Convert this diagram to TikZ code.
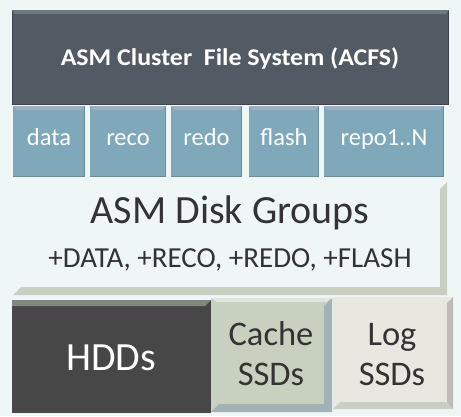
\documentclass[tikz,border=0pt]{standalone}
\usepackage{fontspec}
\setmainfont{Carlito}
\definecolor{bgc}{HTML}{EEF6F6}
\definecolor{acfsc}{HTML}{525A63}
\definecolor{acfsedge}{HTML}{3F454B}
\definecolor{acfstop}{HTML}{6F7980}
\definecolor{mountc}{HTML}{7FA9BA}
\definecolor{mounttop}{HTML}{9DB0C6}
\definecolor{mountedge}{HTML}{6A8C99}
\definecolor{dgbevel}{HTML}{C7D0C0}
\definecolor{hddc}{HTML}{474747}
\definecolor{hddtop}{HTML}{7F877F}
\definecolor{cachec}{HTML}{C8D0C0}
\definecolor{cachebevel}{HTML}{A3B2B5}
\definecolor{logc}{HTML}{E8E8E0}
\definecolor{logbevel}{HTML}{C1B8B9}
\definecolor{darktext}{HTML}{333333}
\begin{document}
\begin{tikzpicture}[x=1pt,y=-1pt,
  lbl/.style={inner sep=0pt, anchor=base, font=\fontsize{24.5}{24.5}\selectfont, text=white},
  darklbl/.style={inner sep=0pt, align=center, text=darktext}]
\fill[bgc] (0,0) rectangle (461,416);
\useasboundingbox (0,0) rectangle (461,416);
% ACFS
\fill[acfsc] (12,10) rectangle (449,105);
\draw[acfsedge, line width=1.2pt] (12.5,10.5) rectangle (448.5,104.5);
\fill[acfstop] (12,10) -- (449,10) -- (446,14) -- (15,14) -- cycle;
\node[inner sep=0pt, anchor=base, text=white, font=\bfseries\fontsize{24}{24}\selectfont] (acfs) at (230,65.5) {\scalebox{1.08}[1]{ASM Cluster\ \ File System (ACFS)}};
% mount points
\foreach \n/\a/\b/\t in {data/13/85/data, reco/90/166/reco, redo/171/242/redo, flash/249/319/flash, repo/324/444/repo1..N}{
  \fill[mountc] (\a,106) rectangle (\b,177);
  \fill[mounttop] (\a,106) -- (\b,106) -- (\b-4,110) -- (\a+4,110) -- cycle;
  \draw[mountedge, line width=0.8pt] (\a,176.6) -- (\b,176.6) (\b-0.4,106) -- (\b-0.4,177);
  \node[lbl] (\n) at ({(\a+\b)/2},145) {\t};
}
% disk groups
\fill[dgbevel] (447,182) -- (447,295) -- (13,295) -- (21,287) -- (440,287) -- (440,189) -- cycle;
\node[darklbl, anchor=base, font=\fontsize{40}{40}\selectfont] (dg) at (230,223) {ASM Disk Groups};
\node[darklbl, anchor=base, font=\fontsize{29}{29}\selectfont] (dgl) at (230,267) {+DATA, +RECO, +REDO, +FLASH};
% HDDs
\fill[hddc] (12,300) rectangle (211,413);
\fill[hddtop] (12,300) -- (211,300) -- (205,306) -- (12,306) -- cycle;
\node[inner sep=0pt, anchor=base, text=white, font=\fontsize{40}{40}\selectfont] (hdd) at (111,370) {HDDs};
% Cache SSDs
\fill[cachec] (211,298) rectangle (332,412);
\fill[cachebevel] (332,298) -- (332,412) -- (211,412) -- (219,404) -- (324,404) -- (324,306) -- cycle;
\fill[bgc!60!cachec] (211,298) -- (332,298) -- (326,302) -- (217,302) -- cycle;
\node[darklbl, anchor=base, font=\fontsize{34.5}{34.5}\selectfont] (cache1) at (271,345) {Cache};
\node[darklbl, anchor=base, font=\fontsize{34.5}{34.5}\selectfont] (cache2) at (271,385) {SSDs};
% Log SSDs
\fill[logc] (333,297) rectangle (453,409);
\fill[logbevel] (453,297) -- (453,409) -- (447,403) -- (447,303) -- cycle;
\fill[dgbevel] (333,409) -- (453,409) -- (447,402) -- (340,402) -- cycle;
\node[darklbl, anchor=base, font=\fontsize{34.5}{34.5}\selectfont] (log1) at (392,345) {Log};
\node[darklbl, anchor=base, font=\fontsize{34.5}{34.5}\selectfont] (log2) at (392,385) {SSDs};
\end{tikzpicture}
\end{document}
